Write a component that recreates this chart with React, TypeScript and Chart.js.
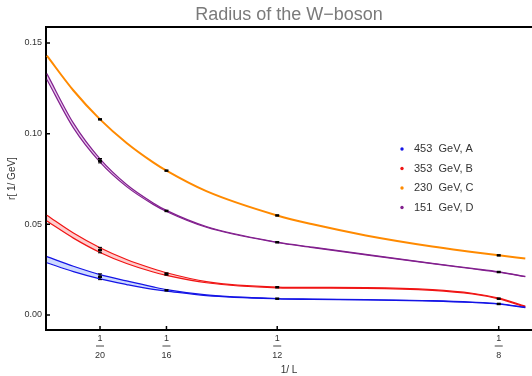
import React, { useEffect, useRef } from "react";
import { Chart, registerables } from "chart.js";

Chart.register(...registerables);

const titleText = "Radius of the W−boson";
const xAxisTitle = "1/ L";
const yAxisTitle = "r[ 1/ GeV]";

// lattice sizes L (x = 1/L)
const latticeSizes = [20, 16, 12, 8];
const yTickValues = [0, 0.05, 0.1, 0.15];

const seriesLabels = ["453  GeV, A", "353  GeV, B", "230  GeV, C", "151  GeV, D"];
const seriesColors = ["#1414e6", "#f01414", "#ff8a00", "#82208e"];
const bandColors = ["rgba(190,205,255,0.75)", "rgba(255,190,190,0.75)", "rgba(255,210,160,0.6)", "rgba(225,185,235,0.75)"];

// measured points at 1/L
const pointsA = [0.0211, 0.0136, 0.009, 0.0061];
const errorsA = [0.0016, 0.0005, 0.0003, 0.0003];
const pointsB = [0.0358, 0.0226, 0.0153, 0.009];
const errorsB = [0.0015, 0.0006, 0.0003, 0.0003];
const pointsC = [0.1079, 0.0796, 0.0549, 0.0329];
const errorsC = [0.0004, 0.0004, 0.0003, 0.0003];
const pointsD = [0.0851, 0.0574, 0.0401, 0.0237];
const errorsD = [0.0012, 0.0004, 0.0003, 0.0003];

// fit bands, sampled along 1/L
const fitX = [0.04, 0.045, 0.05, 0.055, 0.06, 0.0625, 0.07, 0.0833, 0.09, 0.1, 0.1125, 0.12, 0.125, 0.13];
const bandAUpper = [0.0322, 0.0269, 0.0223, 0.0188, 0.0155, 0.014, 0.0111, 0.0091, 0.0088, 0.0085, 0.0079, 0.0071, 0.0062, 0.0043];
const bandALower = [0.0288, 0.0239, 0.0199, 0.0168, 0.0141, 0.0132, 0.0107, 0.0089, 0.0086, 0.0083, 0.0077, 0.0069, 0.006, 0.0041];
const bandBUpper = [0.055, 0.0452, 0.0371, 0.0306, 0.0255, 0.0233, 0.0184, 0.0154, 0.0152, 0.0151, 0.014, 0.012, 0.0093, 0.0049];
const bandBLower = [0.0518, 0.0424, 0.0345, 0.0284, 0.0237, 0.0219, 0.0178, 0.015, 0.0148, 0.0147, 0.0136, 0.0116, 0.0089, 0.0045];
const curveC = [0.143, 0.1238, 0.1079, 0.0949, 0.0842, 0.0796, 0.0683, 0.0549, 0.05, 0.0439, 0.0378, 0.0348, 0.0329, 0.0312];
const bandDUpper = [0.1331, 0.1058, 0.0861, 0.072, 0.0618, 0.0577, 0.0488, 0.0402, 0.0374, 0.0334, 0.0285, 0.0257, 0.0238, 0.0213];
const bandDLower = [0.1299, 0.1032, 0.0843, 0.0708, 0.061, 0.0571, 0.0484, 0.04, 0.0372, 0.0332, 0.0283, 0.0255, 0.0236, 0.0211];

const FONT = "'Liberation Sans', Arial, Helvetica, sans-serif";

const toXY = (ys: number[]) => fitX.map((x, i) => ({ x, y: ys[i] }));
const toPts = (ys: number[]) => latticeSizes.map((L, i) => ({ x: 1 / L, y: ys[i] }));

function lineDs(ys: number[], color: string, width: number, fill: any, bg?: string) {
  return {
    data: toXY(ys),
    borderColor: color,
    borderWidth: width,
    pointRadius: 0,
    fill,
    backgroundColor: bg || "transparent",
    cubicInterpolationMode: "monotone",
    showLine: true,
  };
}

function pointDs(ys: number[], errs: number[]) {
  return {
    data: toPts(ys),
    showLine: false,
    pointRadius: 0,
    borderColor: "#000",
    backgroundColor: "#000",
    fill: false,
    measuredErrors: errs,
  };
}

const decorPlugin = {
  id: "decor",
  afterDatasetsDraw(chart: any) {
    const ctx = chart.ctx;
    const yScale = chart.scales.y;
    chart.data.datasets.forEach((ds: any, i: number) => {
      if (!ds.measuredErrors) return;
      const meta = chart.getDatasetMeta(i);
      meta.data.forEach((el: any, j: number) => {
        const v = ds.data[j].y;
        const e = ds.measuredErrors[j];
        const yt = yScale.getPixelForValue(v + e);
        const yb = yScale.getPixelForValue(v - e);
        ctx.save();
        ctx.strokeStyle = "#000";
        ctx.lineWidth = 1;
        if (yb - yt > 2) {
          ctx.beginPath();
          ctx.moveTo(el.x, yt);
          ctx.lineTo(el.x, yb);
          ctx.moveTo(el.x - 2, yt);
          ctx.lineTo(el.x + 2, yt);
          ctx.moveTo(el.x - 2, yb);
          ctx.lineTo(el.x + 2, yb);
          ctx.stroke();
        }
        ctx.fillStyle = "#000";
        ctx.fillRect(el.x - 2, el.y - 1.25, 4, 2.5);
        ctx.restore();
      });
    });
  },
  afterDraw(chart: any) {
    const ctx = chart.ctx;
    const { left, right, top, bottom } = chart.chartArea;
    const xs = chart.scales.x;
    const ys = chart.scales.y;
    ctx.save();
    // top frame
    ctx.strokeStyle = "#000";
    ctx.lineWidth = 2;
    ctx.beginPath();
    ctx.moveTo(left - 1, top);
    ctx.lineTo(right, top);
    ctx.stroke();
    // inward ticks
    ctx.lineWidth = 1.5;
    ctx.beginPath();
    ys.ticks.forEach((t: any) => {
      const p = ys.getPixelForValue(t.value);
      ctx.moveTo(left, p);
      ctx.lineTo(left + 4, p);
    });
    xs.ticks.forEach((t: any) => {
      const p = xs.getPixelForValue(t.value);
      ctx.moveTo(p, bottom);
      ctx.lineTo(p, bottom - 4);
    });
    ctx.stroke();
    // fraction bars
    ctx.strokeStyle = "#444";
    ctx.lineWidth = 1;
    ctx.beginPath();
    xs.ticks.forEach((t: any) => {
      const p = xs.getPixelForValue(t.value);
      ctx.moveTo(p - 4, bottom + 16);
      ctx.lineTo(p + 4, bottom + 16);
    });
    ctx.stroke();
    // legend
    const lx = left + 356;
    const ly = top + 122;
    ctx.font = `11px ${FONT}`;
    ctx.textBaseline = "middle";
    ctx.textAlign = "left";
    seriesLabels.forEach((lab, i) => {
      const yy = ly + i * 19.5;
      ctx.fillStyle = seriesColors[i];
      ctx.beginPath();
      ctx.arc(lx, yy, 1.7, 0, Math.PI * 2);
      ctx.fill();
      ctx.fillStyle = "#333";
      ctx.fillText(lab, lx + 12, yy);
    });
    ctx.restore();
  },
};

export default function App() {
  const ref = useRef<HTMLCanvasElement>(null);
  useEffect(() => {
    Chart.defaults.font.family = FONT;
    const datasets: any[] = [
      lineDs(bandAUpper, seriesColors[0], 1.2, false),
      lineDs(bandALower, seriesColors[0], 1.2, "-1", bandColors[0]),
      lineDs(bandBUpper, seriesColors[1], 1.2, false),
      lineDs(bandBLower, seriesColors[1], 1.2, "-1", bandColors[1]),
      lineDs(curveC, seriesColors[2], 2, false),
      lineDs(bandDUpper, seriesColors[3], 1.2, false),
      lineDs(bandDLower, seriesColors[3], 1.2, "-1", bandColors[3]),
      pointDs(pointsA, errorsA),
      pointDs(pointsB, errorsB),
      pointDs(pointsC, errorsC),
      pointDs(pointsD, errorsD),
    ];
    const chart = new Chart(ref.current!, {
      type: "line",
      data: { datasets },
      plugins: [decorPlugin],
      options: {
        animation: false,
        responsive: false,
        devicePixelRatio: 1,
        events: [],
        layout: { padding: 0 },
        plugins: {
          legend: { display: false },
          tooltip: { enabled: false },
          title: {
            display: true,
            text: titleText,
            fullSize: false,
            color: "#7a7a7a",
            font: { size: 18, weight: "normal", family: FONT },
            padding: { top: 4, bottom: 1.4 },
          },
        },
        scales: {
          x: {
            type: "linear",
            min: 0.03984,
            max: 0.13126,
            grid: { display: false, drawTicks: false },
            border: { display: true, color: "#000", width: 2 },
            afterBuildTicks: (s: any) => {
              s.ticks = latticeSizes.map((L) => ({ value: 1 / L }));
            },
            ticks: {
              autoSkip: false,
              maxRotation: 0,
              padding: 0,
              color: "#333",
              font: { size: 9, lineHeight: 1.9 },
              callback: (v: any) => ["1", String(Math.round(1 / v))],
            },
            title: {
              display: true,
              text: xAxisTitle,
              color: "#333",
              font: { size: 10 },
              padding: { top: 0, bottom: 0 },
            },
            afterFit: (s: any) => {
              s.height = 46;
            },
          },
          y: {
            type: "linear",
            min: -0.00827,
            max: 0.15882,
            grid: { display: false, drawTicks: false },
            border: { display: true, color: "#000", width: 2 },
            afterBuildTicks: (s: any) => {
              s.ticks = yTickValues.map((v) => ({ value: v }));
            },
            ticks: {
              padding: 4,
              color: "#333",
              font: { size: 9 },
              callback: (v: any) => Number(v).toFixed(2),
            },
            title: {
              display: true,
              text: yAxisTitle,
              color: "#333",
              font: { size: 10 },
              padding: { top: 6, bottom: 0 },
            },
            afterFit: (s: any) => {
              s.width = 46;
            },
          },
        },
      } as any,
    });
    return () => chart.destroy();
  }, []);
  return (
    <div style={{ position: "fixed", left: 0, top: 0, width: 532, height: 376, background: "#fff" }}>
      <canvas ref={ref} width={532} height={376} style={{ display: "block", width: 532, height: 376 }} />
    </div>
  );
}
